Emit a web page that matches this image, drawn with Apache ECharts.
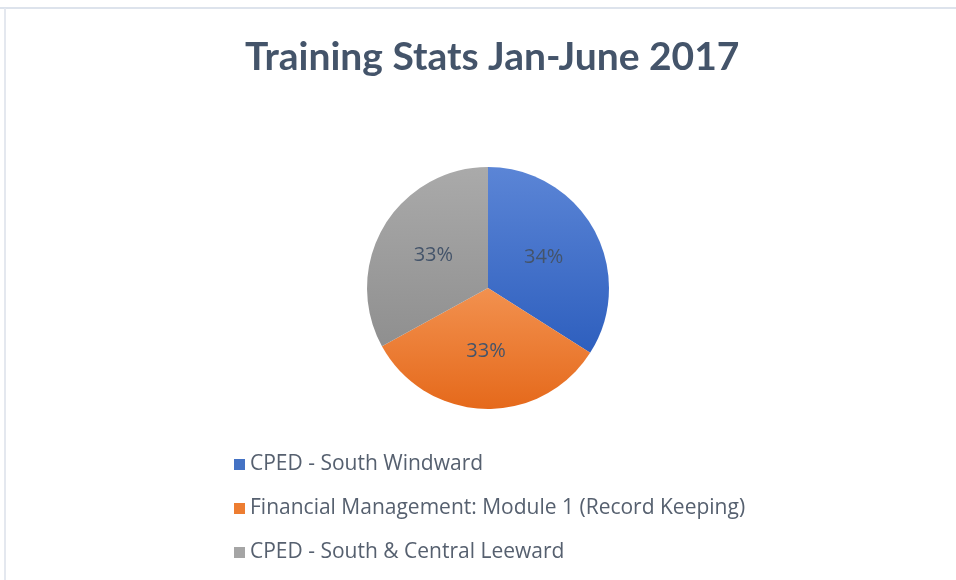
<!DOCTYPE html>
<html>
<head>
<meta charset="utf-8">
<script src="https://cdn.jsdelivr.net/npm/echarts@6/dist/echarts.min.js"></script>
<style>
  html, body { margin: 0; padding: 0; background: #fff; }
  #chart { width: 956px; height: 580px; }
</style>
</head>
<body>
<div id="chart"></div>
<script>
var titleText = 'Training Stats Jan-June 2017';
var categories = ['CPED - South Windward', 'Financial Management: Module 1 (Record Keeping)', 'CPED - South & Central Leeward'];
var values = [34, 33, 33];
var solidColors = ['#4472c4', '#ed7d31', '#a5a5a5'];
var gradTop = ['#5b85d6', '#f2914f', '#aaaaaa'];
var gradBottom = ['#2e5fbe', '#e5691b', '#8f8f8f'];

var myChart = echarts.init(document.getElementById('chart'));

var pieData = values.map(function (v, i) {
  return {
    name: categories[i],
    value: v,
    itemStyle: {
      color: new echarts.graphic.LinearGradient(0, 0, 0, 1, [
        { offset: 0, color: gradTop[i] },
        { offset: 1, color: gradBottom[i] }
      ])
    }
  };
});

var option = {
  backgroundColor: '#fff',
  animation: false,
  title: {
    text: titleText,
    left: 240,
    top: 33,
    textStyle: { fontFamily: 'Lato', fontWeight: 'bold', fontSize: 39, color: '#44546a' }
  },
  graphic: [
    { type: 'line', shape: { x1: 0, y1: 8, x2: 956, y2: 8 }, style: { stroke: '#dde3ec', lineWidth: 2 } },
    { type: 'line', shape: { x1: 5, y1: 8, x2: 5, y2: 580 }, style: { stroke: '#e4e8ef', lineWidth: 2 } }
  ],
  legend: {
    orient: 'vertical',
    left: 229,
    top: 449,
    itemWidth: 11,
    itemHeight: 11,
    itemGap: 23,
    icon: 'rect',
    textStyle: { fontFamily: 'Open Sans', fontSize: 21, color: '#56606f' },
    data: categories.map(function (c, i) {
      return { name: c, itemStyle: { color: solidColors[i] } };
    })
  },
  series: [{
    type: 'pie',
    center: [488, 288],
    radius: 121,
    startAngle: 90,
    clockwise: true,
    percentPrecision: 0,
    label: {
      position: 'inside',
      formatter: '{d}%',
      fontFamily: 'Open Sans',
      fontSize: 20,
      color: '#44546a'
    },
    labelLine: { show: false },
    itemStyle: { borderWidth: 0 },
    emphasis: { disabled: true },
    data: pieData
  }]
};

myChart.setOption(option);
</script>
</body>
</html>
